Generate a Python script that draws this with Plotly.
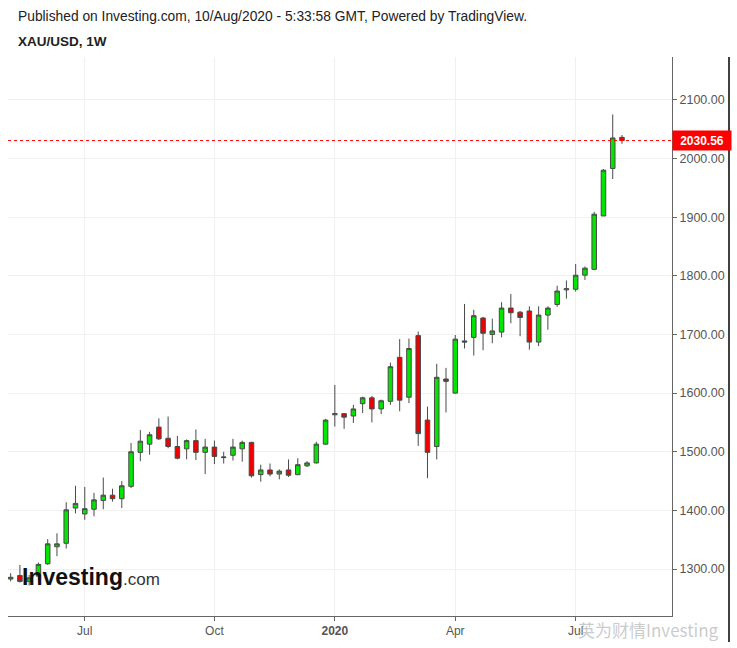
import pandas as pd
import plotly.graph_objects as go

# Weekly XAU/USD candles, starting week of 2019-05-06
start_week = "2019-05-06"
n_weeks = 67
opens = [1283, 1289, 1279, 1288, 1309, 1338, 1344, 1404, 1394, 1402, 1417, 1426, 1420, 1441, 1499, 1513,
         1542, 1523, 1509, 1505, 1519, 1499, 1508, 1490, 1494, 1505, 1516, 1461, 1469, 1462, 1469, 1461,
         1476, 1481, 1513, 1563, 1565, 1561, 1582, 1592, 1573, 1586, 1661, 1593, 1698, 1554, 1509, 1624,
         1600, 1689, 1695, 1728, 1700, 1704, 1745, 1738, 1740, 1687, 1733, 1751, 1776, 1777, 1801, 1811,
         1902, 1983, 2036]
highs = [1293, 1307, 1290, 1311, 1351, 1361, 1414, 1442, 1440, 1430, 1456, 1437, 1450, 1515, 1537, 1534,
         1557, 1560, 1527, 1521, 1538, 1522, 1519, 1500, 1522, 1519, 1517, 1478, 1480, 1470, 1487, 1489,
         1484, 1517, 1556, 1614, 1566, 1580, 1594, 1595, 1589, 1652, 1692, 1693, 1705, 1577, 1650, 1643,
         1699, 1752, 1742, 1730, 1727, 1755, 1769, 1740, 1748, 1748, 1748, 1783, 1792, 1820, 1816, 1909,
         1982, 2075, 2040]
lows = [1279, 1277, 1272, 1281, 1307, 1322, 1335, 1395, 1384, 1390, 1402, 1415, 1404, 1438, 1484, 1495,
        1520, 1506, 1487, 1487, 1486, 1462, 1479, 1480, 1485, 1483, 1456, 1449, 1458, 1453, 1457, 1460,
        1474, 1480, 1512, 1543, 1539, 1549, 1566, 1550, 1564, 1580, 1569, 1583, 1510, 1455, 1487, 1567,
        1599, 1676, 1664, 1673, 1685, 1695, 1719, 1697, 1674, 1680, 1708, 1747, 1761, 1773, 1793, 1810,
        1902, 1965, 2025]
closes = [1286, 1279, 1285, 1308, 1343, 1343, 1401, 1412, 1403, 1418, 1426, 1420, 1442, 1500, 1518, 1529,
          1522, 1509, 1489, 1519, 1499, 1508, 1492, 1491, 1508, 1516, 1459, 1469, 1462, 1467, 1460, 1478,
          1481, 1513, 1554, 1565, 1559, 1573, 1592, 1573, 1587, 1645, 1588, 1676, 1531, 1499, 1627, 1620,
          1692, 1687, 1732, 1702, 1706, 1745, 1737, 1729, 1687, 1733, 1745, 1774, 1778, 1801, 1813, 1905,
          1980, 2035, 2030.56]

last_price = 2030.56
tick_dates = ["2019-07-01", "2019-10-07", "2020-01-06", "2020-04-06", "2020-07-06"]
tick_labels = ["Jul", "Oct", "<b>2020</b>", "Apr", "Jul"]
y_ticks = [1300, 1400, 1500, 1600, 1700, 1800, 1900, 2000, 2100]

dates = pd.date_range(start_week, periods=n_weeks, freq="7D")

FONT = "Liberation Sans, Arial, sans-serif"
GRID = "#f0f0f0"
AXIS = "#666666"

fig = go.Figure()
fig.add_trace(go.Candlestick(
    x=dates, open=opens, high=highs, low=lows, close=closes,
    increasing=dict(fillcolor="#00e600", line=dict(color="#4a4a4a", width=1)),
    decreasing=dict(fillcolor="#f00000", line=dict(color="#4a4a4a", width=1)),
    whiskerwidth=0,
    showlegend=False,
    hoverinfo="skip",
))

W, H = 737, 648
L, R, T, B = 8, 65, 57, 32
pw = W - L - R
ph = H - T - B

def px_x(px):
    return (px - L) / pw

def px_y(py):
    return (H - B - py) / ph

fig.update_layout(
    width=W, height=H,
    margin=dict(l=L, r=R, t=T, b=B, pad=0),
    paper_bgcolor="white", plot_bgcolor="white",
    font=dict(family=FONT, size=12, color="#555555"),
    xaxis=dict(
        type="date",
        range=["2019-05-04", "2020-09-16 19:00"],
        rangeslider=dict(visible=False),
        tickmode="array", tickvals=tick_dates, ticktext=tick_labels,
        showgrid=True, gridcolor=GRID, gridwidth=1,
        showline=True, linecolor=AXIS, linewidth=1,
        ticks="outside", ticklen=4, tickcolor=AXIS,
        tickfont=dict(family=FONT, size=12, color="#555555"),
        zeroline=False,
    ),
    yaxis=dict(
        side="right",
        range=[1220, 2173],
        tickmode="array", tickvals=y_ticks,
        ticktext=[f"{v:.2f}" for v in y_ticks],
        showgrid=True, gridcolor=GRID, gridwidth=1,
        showline=True, linecolor=AXIS, linewidth=1,
        ticks="outside", ticklen=4, tickcolor=AXIS,
        tickfont=dict(family=FONT, size=12.5, color="#555555"),
        zeroline=False,
    ),
    shapes=[
        dict(type="line", xref="paper", yref="y", x0=0, x1=1, y0=last_price, y1=last_price,
             line=dict(color="#ff0000", width=1, dash="dot")),
        dict(type="line", xref="paper", yref="paper", x0=px_x(729), x1=px_x(729),
             y0=px_y(642), y1=1, line=dict(color="#000000", width=1.5)),
    ],
    annotations=[
        dict(xref="paper", yref="paper", x=px_x(16), y=px_y(17), xanchor="left", yanchor="middle",
             text="Published on Investing.com, 10/Aug/2020 - 5:33:58 GMT, Powered by TradingView.",
             showarrow=False, font=dict(family=FONT, size=13.8, color="#222222")),
        dict(xref="paper", yref="paper", x=px_x(16), y=px_y(41), xanchor="left", yanchor="middle",
             text="<b>XAU/USD, 1W</b>",
             showarrow=False, font=dict(family=FONT, size=13.5, color="#222222")),
        dict(xref="paper", yref="y", x=1, y=last_price, xanchor="left", yanchor="middle",
             text="<b>2030.56</b>", showarrow=False, bgcolor="#ff0000",
             width=54, height=15, borderpad=2,
             font=dict(family=FONT, size=12, color="#ffffff")),
        dict(xref="paper", yref="paper", x=px_x(20), y=px_y(577), xanchor="left", yanchor="middle",
             text="<b>Investing</b><span style='font-size:17px;color:#333333'>.com</span>",
             showarrow=False, font=dict(family=FONT, size=23, color="#111111")),
        dict(xref="paper", yref="paper", x=px_x(576), y=px_y(629), xanchor="left", yanchor="middle",
             text="英为财情Investing", showarrow=False,
             font=dict(family="Noto Sans CJK SC, sans-serif", size=17, color="rgba(185,185,185,0.75)")),
    ],
)

fig.write_html("out.html")
